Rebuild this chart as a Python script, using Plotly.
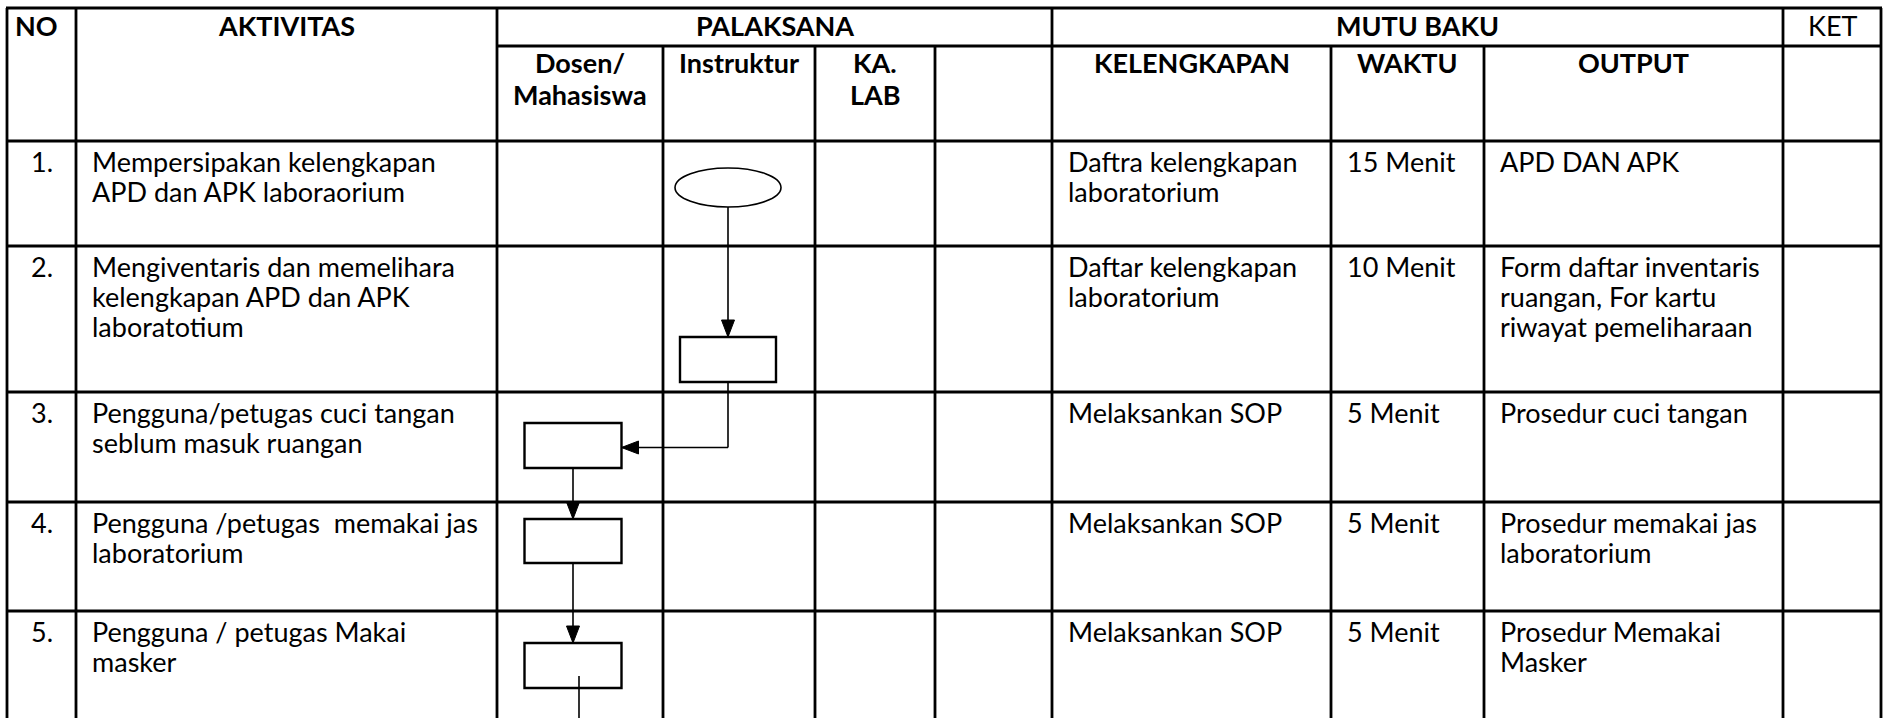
import plotly.graph_objects as go

# ---------------- data ----------------
header_top = ["NO", "AKTIVITAS", "PALAKSANA", "MUTU BAKU", "KET"]
header_sub = ["Dosen/<br>Mahasiswa", "Instruktur", "KA.<br>LAB", "", "KELENGKAPAN", "WAKTU", "OUTPUT"]
row_no = ["1.", "2.", "3.", "4.", "5."]
aktivitas = [
    "Mempersipakan kelengkapan<br>APD dan APK laboraorium",
    "Mengiventaris dan memelihara<br>kelengkapan APD dan APK<br>laboratotium",
    "Pengguna/petugas cuci tangan<br>seblum masuk ruangan",
    "Pengguna /petugas  memakai jas<br>laboratorium",
    "Pengguna / petugas Makai<br>masker",
]
kelengkapan = [
    "Daftra kelengkapan<br>laboratorium",
    "Daftar kelengkapan<br>laboratorium",
    "Melaksankan SOP",
    "Melaksankan SOP",
    "Melaksankan SOP",
]
waktu = ["15 Menit", "10 Menit", "5 Menit", "5 Menit", "5 Menit"]
output = [
    "APD DAN APK",
    "Form daftar inventaris<br>ruangan, For kartu<br>riwayat pemeliharaan",
    "Prosedur cuci tangan",
    "Prosedur memakai jas<br>laboratorium",
    "Prosedur Memakai<br>Masker",
]
ket = ["", "", "", "", ""]
# flowchart: which executor lane carries each step, and the symbol used
flow_lane = ["Instruktur", "Instruktur", "Dosen", "Dosen", "Dosen"]
flow_symbol = ["ellipse", "rect", "rect", "rect", "rect"]

# ---------------- layout (geometry) ----------------
W, H = 1891, 718
col_x = [7, 76, 497, 663, 815, 935, 1052, 1331, 1484, 1783, 1881]
top_y = 8
sub_y = 46
row_y = [141, 246, 392, 502, 611, 730]
lane_center = {"Dosen": 573, "Instruktur": 728}
sym_top = [168, 337, 423, 519, 643]
sym_h = [39, 45, 45, 44, 45]
sym_w = [106, 96, 97, 97, 97]

FONT = "Lato"
FS = 27
LINE = 30
BLW = 2.8   # table border width
CLW = 1.6   # connector width

fig = go.Figure()
shapes = []
annotations = []


def hline(y, x0, x1, w=BLW):
    shapes.append(dict(type="line", x0=x0, x1=x1, y0=y, y1=y,
                       line=dict(color="black", width=w), layer="above"))


def vline(x, y0, y1, w=BLW):
    shapes.append(dict(type="line", x0=x, x1=x, y0=y0, y1=y1,
                       line=dict(color="black", width=w), layer="above"))


def text(s, x, y, anchor="left", bold=False, spacing=LINE):
    lines = s.split("<br>")
    for i, ln in enumerate(lines):
        if not ln:
            continue
        annotations.append(dict(
            x=x, y=y + i * spacing, xref="x", yref="y", text=("<b>%s</b>" % ln) if bold else ln,
            showarrow=False, xanchor=anchor, yanchor="middle",
            font=dict(family=FONT, size=FS, color="black")))


# table grid
bottom = row_y[-1]
hline(top_y, col_x[0] - 1, col_x[-1] + 1)
hline(sub_y, col_x[2], col_x[-1])
for y in row_y[:-1]:
    hline(y, col_x[0], col_x[-1])
for i, x in enumerate(col_x):
    if i in (0, 1, 2, 6, 9, 10):
        vline(x, top_y, bottom)
    else:
        vline(x, sub_y, bottom)

# header texts
hy = 25
text(header_top[0], col_x[0] + 6, hy, "left", True)
text(header_top[1], (col_x[1] + col_x[2]) / 2, hy, "center", True)
text(header_top[2], (col_x[2] + col_x[6]) / 2, hy, "center", True)
text(header_top[3], (col_x[6] + col_x[9]) / 2, hy, "center", True)
text(header_top[4], (col_x[9] + col_x[10]) / 2, hy, "center", False)
for j, s in enumerate(header_sub):
    text(s, (col_x[2 + j] + col_x[3 + j]) / 2, 62, "center", True, spacing=32)

# body texts
pad = 14
for r in range(len(row_no)):
    y0 = row_y[r] + 20
    text(row_no[r], (col_x[0] + col_x[1]) / 2, y0, "center")
    text(aktivitas[r], col_x[1] + pad, y0)
    text(kelengkapan[r], col_x[6] + pad, y0)
    text(waktu[r], col_x[7] + pad, y0)
    text(output[r], col_x[8] + pad, y0)
    text(ket[r], col_x[9] + pad, y0)

# flowchart symbols
boxes = []
for r, (lane, sym) in enumerate(zip(flow_lane, flow_symbol)):
    cx = lane_center[lane]
    x0, x1 = cx - sym_w[r] / 2, cx + sym_w[r] / 2
    y0, y1 = sym_top[r], sym_top[r] + sym_h[r]
    shapes.append(dict(type="circle" if sym == "ellipse" else "rect",
                       x0=x0, x1=x1, y0=y0, y1=y1,
                       line=dict(color="black", width=2.4 if sym == "rect" else 1.6),
                       fillcolor="white", layer="above"))
    boxes.append((cx, x0, x1, y0, y1))


def arrow_down(x, ytip):
    shapes.append(dict(type="path", path=f"M {x-6.5},{ytip-17} L {x+6.5},{ytip-17} L {x},{ytip} Z",
                       fillcolor="black", line=dict(color="black", width=1), layer="above"))


def arrow_left(xtip, y):
    shapes.append(dict(type="path", path=f"M {xtip+17},{y-6.5} L {xtip+17},{y+6.5} L {xtip},{y} Z",
                       fillcolor="black", line=dict(color="black", width=1), layer="above"))


def seg(x0, y0, x1, y1):
    shapes.append(dict(type="line", x0=x0, x1=x1, y0=y0, y1=y1,
                       line=dict(color="black", width=CLW), layer="above"))


for r in range(len(boxes) - 1):
    cx, bx0, bx1, by0, by1 = boxes[r]
    nx, nx0, nx1, ny0, ny1 = boxes[r + 1]
    if abs(cx - nx) < 1:
        seg(cx, by1, cx, ny0)
        arrow_down(cx, ny0)
    else:
        ymid = (ny0 + ny1) / 2 + 2
        seg(cx, by1, cx, ymid)
        seg(cx, ymid, nx1, ymid)
        arrow_left(nx1, ymid)
# continuation line leaving the last box
lx = boxes[-1][0] + 6
seg(lx, boxes[-1][3] + 33, lx, bottom)

fig.update_layout(
    width=W, height=H, margin=dict(l=0, r=0, t=0, b=0),
    paper_bgcolor="white", plot_bgcolor="white",
    xaxis=dict(range=[0, W], visible=False, fixedrange=True),
    yaxis=dict(range=[H, 0], visible=False, fixedrange=True),
    shapes=shapes, annotations=annotations, showlegend=False,
)
fig.write_html("out.html", config={"displayModeBar": False},
               post_script="document.body.style.margin='0';document.body.style.overflow='hidden';")
